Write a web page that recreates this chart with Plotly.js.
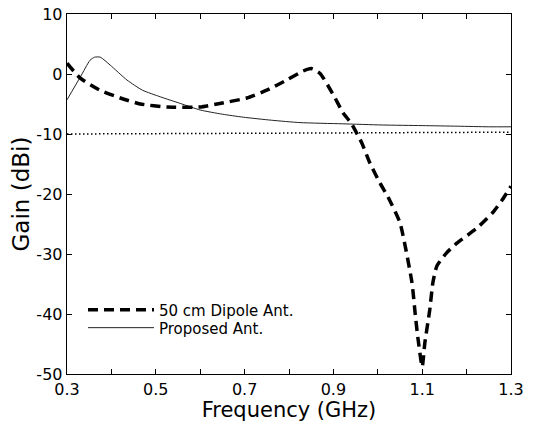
<!DOCTYPE html>
<html>
<head>
<meta charset="utf-8">
<script src="https://cdn.plot.ly/plotly-3.0.1.min.js"></script>
<style>html,body{margin:0;padding:0;background:#fff;}#chart{width:537px;height:424px;}</style>
</head>
<body>
<div id="chart"></div>
<script>
// Data
const dipoleFreq = [0.300, 0.330, 0.374, 0.420, 0.465, 0.525, 0.600, 0.638, 0.705, 0.750, 0.795, 0.832, 0.850, 0.870, 0.900, 0.922, 0.940, 0.964, 0.982, 1.005, 1.023, 1.050, 1.077, 1.084, 1.090, 1.100, 1.106, 1.117, 1.124, 1.133, 1.155, 1.178, 1.223, 1.260, 1.280, 1.300];
const dipoleGain = [1.8, -0.7, -2.7, -4.0, -5.0, -5.5, -5.5, -5.0, -4.0, -2.7, -1.0, 0.5, 0.9, 0.1, -3.5, -6.5, -8.2, -11.5, -14.8, -18.2, -20.5, -24.8, -34.8, -39.8, -43.8, -48.8, -44.8, -39.3, -34.8, -32.0, -29.8, -28.2, -25.7, -23.0, -21.0, -18.7];
const propFreq = [0.300, 0.330, 0.352, 0.362, 0.375, 0.397, 0.435, 0.470, 0.510, 0.555, 0.600, 0.650, 0.697, 0.760, 0.825, 0.920, 1.010, 1.100, 1.180, 1.250, 1.300];
const propGain = [-4.3, -0.5, 2.3, 2.8, 2.8, 1.5, -1.0, -2.7, -3.8, -4.9, -6.0, -6.7, -7.2, -7.7, -8.1, -8.3, -8.5, -8.6, -8.7, -8.8, -8.8];
const refFreq = [0.30, 0.80, 1.30];
const refGain = [-10.0, -9.9, -9.7];
const seriesNames = ["50 cm Dipole Ant.", "Proposed Ant."];
const xTickVals = [0.3, 0.5, 0.7, 0.9, 1.1, 1.3];
const xTickText = ["0.3", "0.5", "0.7", "0.9", "1.1", "1.3"];
const yTickVals = [-50, -40, -30, -20, -10, 0, 10];
const yTickText = ["-50", "-40", "-30", "-20", "-10", "0", "10"];

const FONT = "DejaVu Sans, sans-serif";

const traces = [
  {x: refFreq, y: refGain, mode: "lines", showlegend: false,
   line: {color: "#000", width: 1.5, dash: "1.5px,2.5px"}, hoverinfo: "skip"},
  {x: propFreq, y: propGain, mode: "lines", name: seriesNames[1], legend: "legend2",
   line: {color: "#222", width: 1, shape: "spline", smoothing: 0.6}},
  {x: dipoleFreq, y: dipoleGain, mode: "lines", name: seriesNames[0], legend: "legend",
   line: {color: "#000", width: 3.5, dash: "10px,6px", shape: "spline", smoothing: 0.5}}
];

const axisCommon = {
  showline: true, mirror: "ticks", linecolor: "#000", linewidth: 1.3,
  ticks: "inside", ticklen: 5, tickcolor: "#000", tickwidth: 1,
  showgrid: false, zeroline: false,
  tickfont: {family: FONT, size: 16, color: "#000"}
};

const legendFont = {family: FONT, size: 15, color: "#000"};

const layout = {
  width: 537, height: 424,
  margin: {l: 67, r: 26, t: 14, b: 50},
  paper_bgcolor: "#fff", plot_bgcolor: "#fff",
  font: {family: FONT, color: "#000"},
  xaxis: Object.assign({}, axisCommon, {
    range: [0.3, 1.3], tickmode: "array", tickvals: xTickVals, ticktext: xTickText,
    minor: {dtick: 0.1, tick0: 0.3, ticks: "inside", ticklen: 5, tickcolor: "#000", showgrid: false},
    title: {text: "Frequency (GHz)", font: {family: FONT, size: 21, color: "#000"}, standoff: 2}
  }),
  yaxis: Object.assign({}, axisCommon, {
    range: [-50, 10], tickmode: "array", tickvals: yTickVals, ticktext: yTickText,
    title: {text: "Gain (dBi)", font: {family: FONT, size: 23, color: "#000"}, standoff: 0}
  }),
  legend: {x: 0.036, y: 0.178, xanchor: "left", yanchor: "middle", bgcolor: "rgba(0,0,0,0)",
           itemwidth: 66, font: legendFont},
  legend2: {x: 0.036, y: 0.128, xanchor: "left", yanchor: "middle", bgcolor: "rgba(0,0,0,0)",
            itemwidth: 66, font: legendFont},
  showlegend: true
};

Plotly.newPlot("chart", traces, layout, {displayModeBar: false, staticPlot: true});
</script>
</body>
</html>
